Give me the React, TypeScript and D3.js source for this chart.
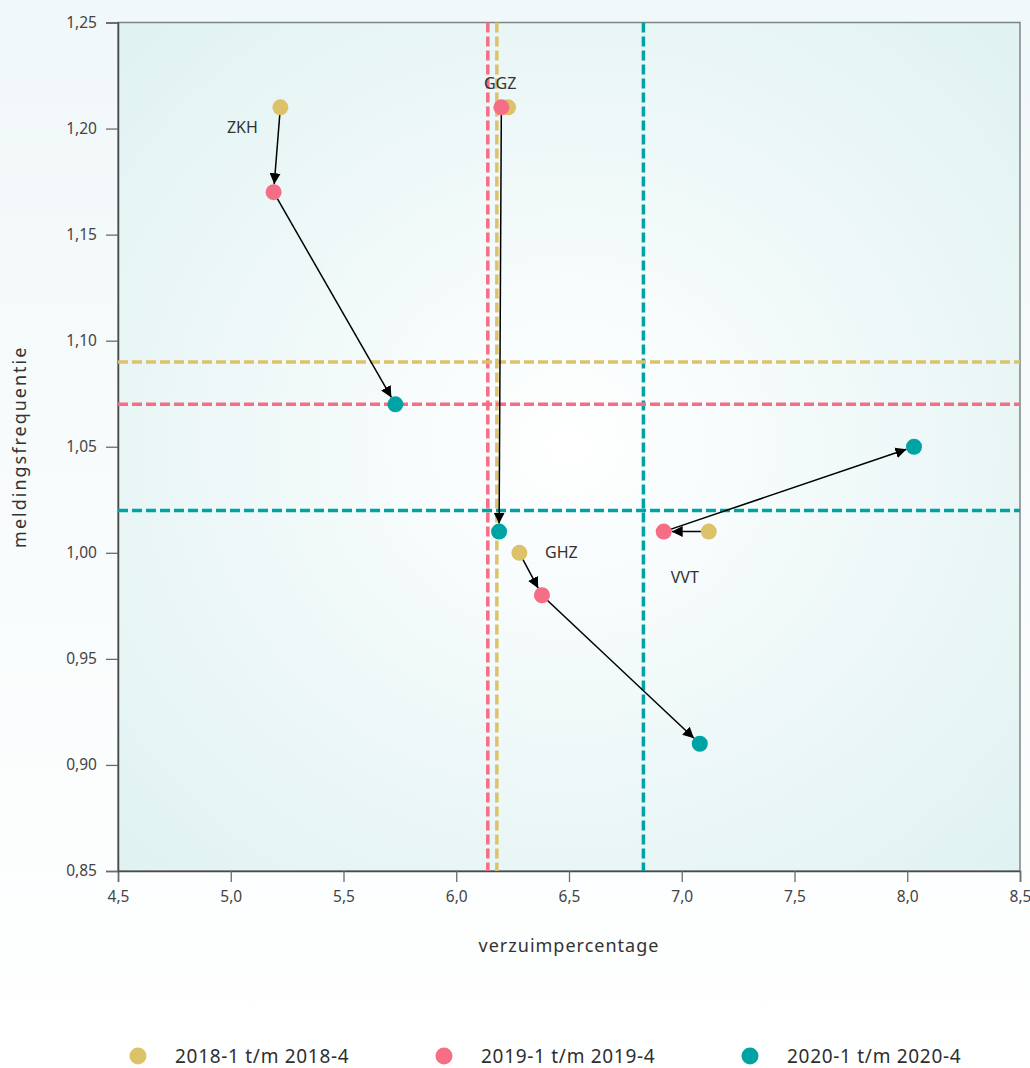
import React, { useEffect, useRef } from "react";
import * as d3 from "d3";

// sector names
const sectors = ["ZKH", "GGZ", "GHZ", "VVT"];
const periods = ["2018-1 t/m 2018-4", "2019-1 t/m 2019-4", "2020-1 t/m 2020-4"];
const colors = ["#dcc268", "#f66d86", "#00a3a3"];

// verzuimpercentage per sector, one array per period
const verzuim2018 = [5.22, 6.23, 6.28, 7.12];
const verzuim2019 = [5.19, 6.2, 6.38, 6.92];
const verzuim2020 = [5.73, 6.19, 7.08, 8.03];

// meldingsfrequentie per sector, one array per period
const frequentie2018 = [1.21, 1.21, 1.0, 1.01];
const frequentie2019 = [1.17, 1.21, 0.98, 1.01];
const frequentie2020 = [1.07, 1.01, 0.91, 1.05];

// averages (dashed reference lines) per period
const avgVerzuim = [6.18, 6.14, 6.83];
const avgFrequentie = [1.09, 1.07, 1.02];

const xTicks = [4.5, 5.0, 5.5, 6.0, 6.5, 7.0, 7.5, 8.0, 8.5];
const yTicks = [0.85, 0.9, 0.95, 1.0, 1.05, 1.1, 1.15, 1.2, 1.25];

// label offsets relative to the first (2018) point
const labelOffset: Record<string, [number, number]> = {
  ZKH: [-38, 26],
  GGZ: [-8, -18],
  GHZ: [42, 5],
  VVT: [-24, 51],
};

export default function App() {
  const svgRef = useRef<SVGSVGElement>(null);

  useEffect(() => {
    const svg = d3.select(svgRef.current);
    svg.selectAll("*").remove();

    const width = 1030;
    const height = 1068;
    const margin = { top: 22.5, right: 10, bottom: 197, left: 118 };
    const font = "'Noto Sans', sans-serif";

    const x = d3.scaleLinear().domain([4.5, 8.5]).range([margin.left, width - margin.right]);
    const y = d3.scaleLinear().domain([0.85, 1.25]).range([height - margin.bottom, margin.top]);

    const defs = svg.append("defs");
    const pageGrad = defs.append("linearGradient").attr("id", "page").attr("x1", 0).attr("y1", 0).attr("x2", 0).attr("y2", 1);
    pageGrad.append("stop").attr("offset", "0%").attr("stop-color", "#f1f8f9");
    pageGrad.append("stop").attr("offset", "100%").attr("stop-color", "#ffffff");

    const plotGrad = defs.append("radialGradient").attr("id", "plot").attr("cx", "50%").attr("cy", "50%").attr("r", "70%");
    plotGrad.append("stop").attr("offset", "0%").attr("stop-color", "#ffffff");
    plotGrad.append("stop").attr("offset", "100%").attr("stop-color", "#e0f2f2");

    defs.append("marker")
      .attr("id", "arrow")
      .attr("viewBox", "0 0 10 10")
      .attr("refX", 10)
      .attr("refY", 5)
      .attr("markerWidth", 11)
      .attr("markerHeight", 12)
      .attr("markerUnits", "userSpaceOnUse")
      .attr("orient", "auto")
      .append("path")
      .attr("d", "M0,0 L10,5 L0,10 Z")
      .attr("fill", "#000");

    svg.append("rect").attr("width", width).attr("height", height).attr("fill", "url(#page)");

    const [x0, x1] = x.range();
    const [y0, y1] = y.range();
    svg.append("rect")
      .attr("x", x0).attr("y", y1)
      .attr("width", x1 - x0).attr("height", y0 - y1)
      .attr("fill", "url(#plot)")
      .attr("stroke", "#7d8585")
      .attr("stroke-width", 1.5);

    // axes
    const xAxis = d3.axisBottom(x).tickValues(xTicks).tickSize(11).tickPadding(9)
      .tickFormat((d) => d3.format(".1f")(d as number).replace(".", ","));
    const yAxis = d3.axisLeft(y).tickValues(yTicks).tickSize(12).tickPadding(9)
      .tickFormat((d) => d3.format(".2f")(d as number).replace(".", ","));

    const gx = svg.append("g").attr("transform", `translate(0,${y0})`).call(xAxis);
    const gy = svg.append("g").attr("transform", `translate(${x0},0)`).call(yAxis);
    [gx, gy].forEach((g) => {
      g.select(".domain").attr("stroke", "#4a4a4a").attr("stroke-width", 1.5);
      g.selectAll(".tick line").attr("stroke", "#6b6b6b").attr("stroke-width", 1.3);
      g.selectAll(".tick text").attr("fill", "#444").attr("font-size", 15.5).attr("font-family", font);
    });

    // axis titles
    svg.append("text")
      .attr("x", (x0 + x1) / 2).attr("y", 952)
      .attr("text-anchor", "middle")
      .attr("font-family", font).attr("font-size", 18).attr("fill", "#333")
      .attr("letter-spacing", 1)
      .text("verzuimpercentage");
    svg.append("text")
      .attr("transform", `translate(26,${(y0 + y1) / 2}) rotate(-90)`)
      .attr("text-anchor", "middle")
      .attr("font-family", font).attr("font-size", 18).attr("fill", "#333")
      .attr("letter-spacing", 2)
      .text("meldingsfrequentie");

    // dashed averages
    const refs = svg.append("g").attr("stroke-width", 3.5).attr("stroke-dasharray", "10,4");
    avgVerzuim.forEach((v, i) => {
      refs.append("line").attr("x1", x(v)).attr("x2", x(v)).attr("y1", y1).attr("y2", y0).attr("stroke", colors[i]);
    });
    avgFrequentie.forEach((v, i) => {
      refs.append("line").attr("x1", x0).attr("x2", x1).attr("y1", y(v)).attr("y2", y(v)).attr("stroke", colors[i]);
    });

    const xs = [verzuim2018, verzuim2019, verzuim2020];
    const ys = [frequentie2018, frequentie2019, frequentie2020];
    const r = 8;

    // arrows between periods
    const arrows = svg.append("g");
    sectors.forEach((_, s) => {
      for (let p = 0; p < 2; p++) {
        const ax = x(xs[p][s]);
        const ay = y(ys[p][s]);
        const bx = x(xs[p + 1][s]);
        const by = y(ys[p + 1][s]);
        const len = Math.hypot(bx - ax, by - ay);
        const ux = (bx - ax) / len;
        const uy = (by - ay) / len;
        arrows.append("line")
          .attr("x1", ax).attr("y1", ay)
          .attr("x2", bx - ux * r).attr("y2", by - uy * r)
          .attr("stroke", "#000")
          .attr("stroke-width", 1.5)
          .attr("marker-end", "url(#arrow)");
      }
    });

    // points
    xs.forEach((arr, p) => {
      svg.append("g").selectAll("circle")
        .data(arr)
        .join("circle")
        .attr("cx", (d) => x(d))
        .attr("cy", (_, s) => y(ys[p][s]))
        .attr("r", r)
        .attr("fill", colors[p]);
    });

    // sector labels
    svg.append("g").selectAll("text")
      .data(sectors)
      .join("text")
      .attr("x", (d, s) => x(verzuim2018[s]) + labelOffset[d][0])
      .attr("y", (d, s) => y(frequentie2018[s]) + labelOffset[d][1])
      .attr("text-anchor", "middle")
      .attr("font-family", font).attr("font-size", 16).attr("fill", "#333")
      .text((d) => d);

    // legend
    const legend = svg.append("g").attr("transform", "translate(0,1056)");
    periods.forEach((label, i) => {
      const lx = 138 + i * 306;
      legend.append("circle").attr("cx", lx).attr("cy", 0).attr("r", 8.5).attr("fill", colors[i]);
      legend.append("text")
        .attr("x", lx + 37).attr("y", 7)
        .attr("font-family", font).attr("font-size", 19).attr("fill", "#2f2f2f")
        .attr("letter-spacing", 0.7)
        .text(label);
    });
  }, []);

  return (
    <svg
      ref={svgRef}
      width="1030"
      height="1068"
      style={{ position: "absolute", left: 0, top: 0, display: "block" }}
    ></svg>
  );
}
